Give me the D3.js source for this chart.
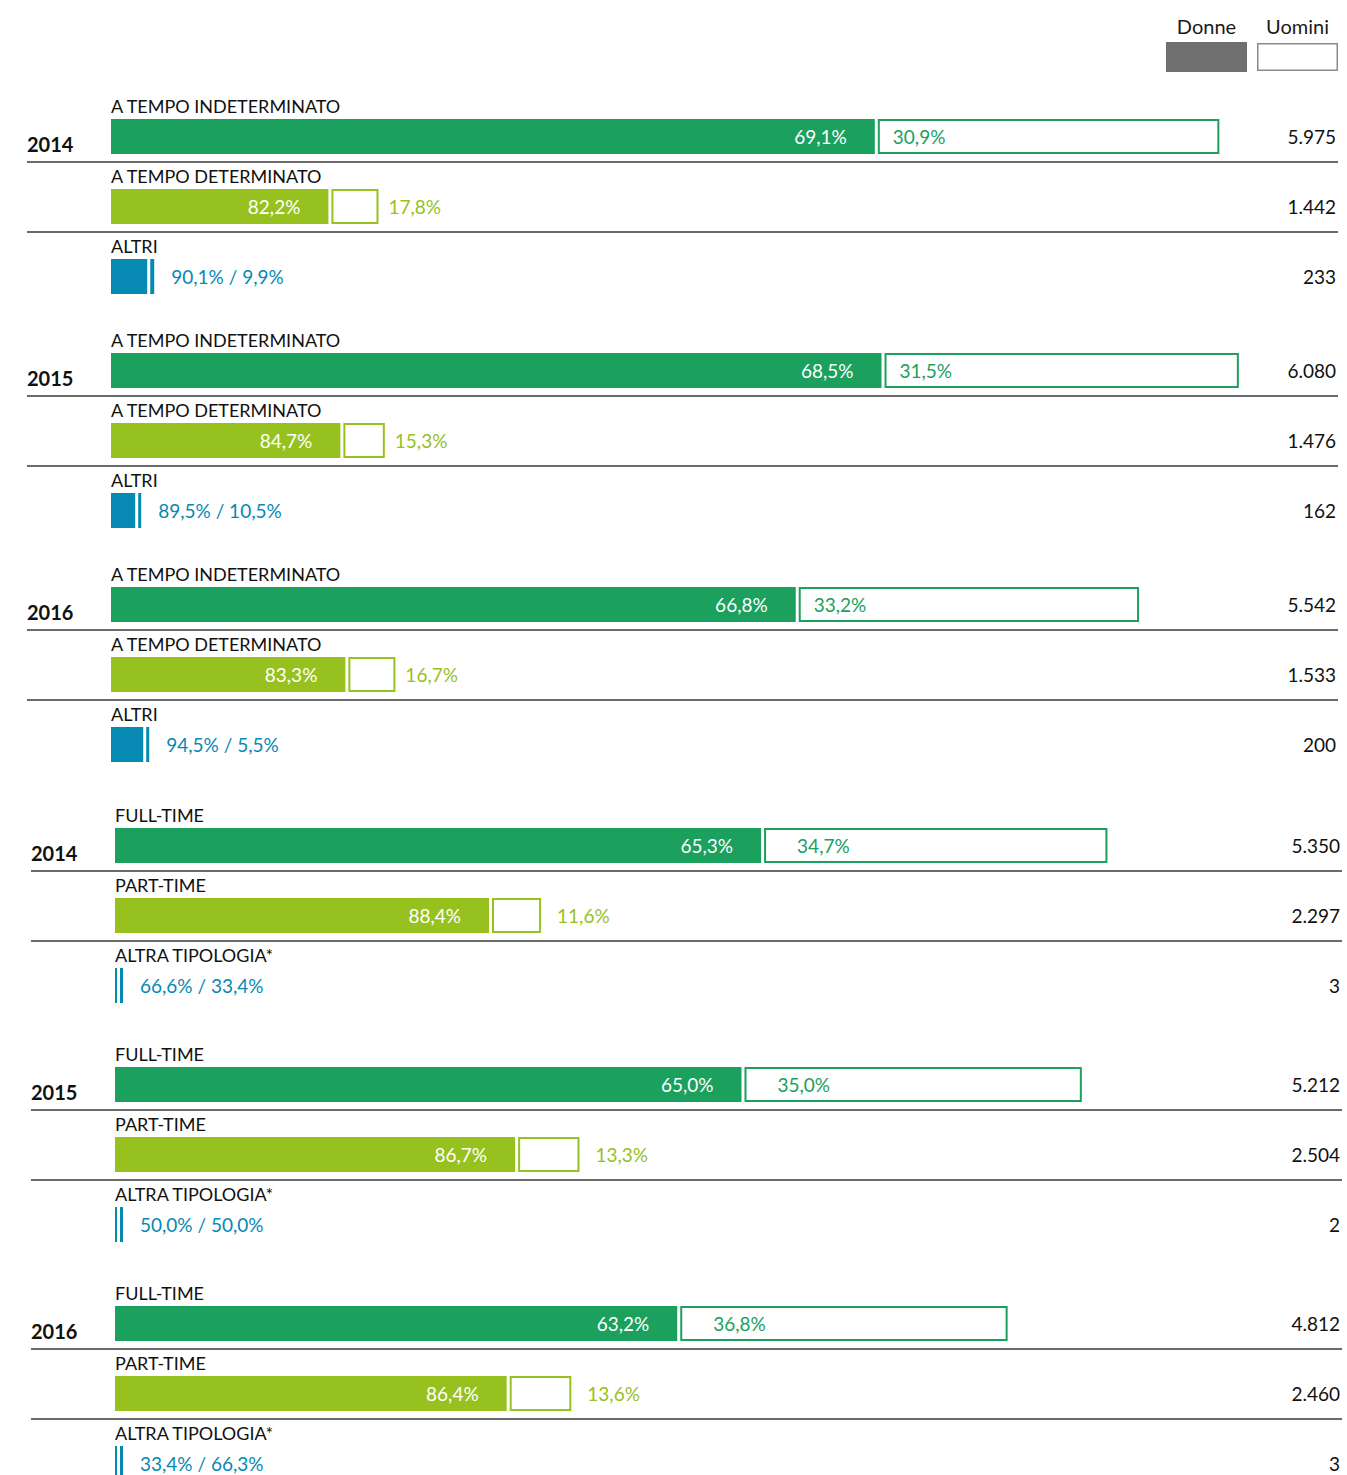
<!DOCTYPE html>
<html>
<head>
<meta charset="utf-8">
<script src="https://cdn.jsdelivr.net/npm/d3@7"></script>
<style>
  body { margin: 0; background: #fff; }
  svg { display: block; }
</style>
</head>
<body>
<svg id="chart" width="1347" height="1475"></svg>
<script>
// dati
const years = ["2014", "2015", "2016"];

const contractCats = ["A TEMPO INDETERMINATO", "A TEMPO DETERMINATO", "ALTRI"];
const contractTotals = [[5975, 1442, 233], [6080, 1476, 162], [5542, 1533, 200]];
const contractDonne = [[69.1, 82.2, 90.1], [68.5, 84.7, 89.5], [66.8, 83.3, 94.5]];
const contractUomini = [[30.9, 17.8, 9.9], [31.5, 15.3, 10.5], [33.2, 16.7, 5.5]];

const timeCats = ["FULL-TIME", "PART-TIME", "ALTRA TIPOLOGIA*"];
const timeTotals = [[5350, 2297, 3], [5212, 2504, 2], [4812, 2460, 3]];
const timeDonne = [[65.3, 88.4, 66.6], [65.0, 86.7, 50.0], [63.2, 86.4, 33.4]];
const timeUomini = [[34.7, 11.6, 33.4], [35.0, 13.3, 50.0], [36.8, 13.6, 66.3]];

const legendLabels = ["Donne", "Uomini"];

const rowColors = ["#1ba05e", "#97c11f", "#0689b3"];

const it = d3.formatLocale({ decimal: ",", thousands: ".", grouping: [3], currency: ["€", ""] });
const fmtPct = it.format(".1f");
const fmtInt = it.format(",d");

const svg = d3.select("#chart");
const FONT = "Lato, 'Open Sans', sans-serif";

// scala comune per la lunghezza delle barre
const x = d3.scaleLinear().domain([0, 6000]).range([0, 1113]);

// legenda
const legendX = d3.scaleBand().domain(legendLabels).range([1166, 1338]).paddingInner(0.11);
const lg = svg.append("g");
lg.selectAll("text").data(legendLabels).enter().append("text")
  .attr("x", d => legendX(d) + legendX.bandwidth() / 2)
  .attr("y", 34)
  .attr("text-anchor", "middle")
  .attr("font-family", FONT)
  .attr("font-size", 20)
  .attr("fill", "#1a1a1a")
  .text(d => d);
lg.append("rect")
  .attr("x", legendX("Donne")).attr("y", 42)
  .attr("width", legendX.bandwidth()).attr("height", 30)
  .attr("fill", "#6f6f6f");
lg.append("rect")
  .attr("x", legendX("Uomini") + 0.75).attr("y", 43.75)
  .attr("width", legendX.bandwidth() - 1.5).attr("height", 26.5)
  .attr("fill", "#fff").attr("stroke", "#8a8a8a").attr("stroke-width", 1.5);

function drawSection(opts) {
  const g = svg.append("g").attr("transform", `translate(${opts.dx},0)`);
  const barX = 111;
  const rowStep = 70;
  const barH = 35;

  years.forEach((year, yi) => {
    const top = opts.start + yi * opts.step;
    opts.cats.forEach((cat, ri) => {
      const ly = top + ri * rowStep;        // centro etichetta
      const by = ly + 13;                   // top barra
      const total = opts.totals[yi][ri];
      const pd = opts.donne[yi][ri];
      const pu = opts.uomini[yi][ri];
      const full = x(total);
      const gap = 3;
      let wD = Math.max((full - gap) * pd / 100, 2);
      let wU = Math.max((full - gap) * pu / 100, 3);
      const color = rowColors[ri];

      g.append("text")
        .attr("x", barX).attr("y", ly + 6.5)
        .attr("font-family", FONT).attr("font-size", 18)
        .attr("fill", "#111")
        .text(cat);

      g.append("rect")
        .attr("x", barX).attr("y", by)
        .attr("width", wD).attr("height", barH)
        .attr("fill", color);

      const ux = barX + wD + gap;
      g.append("rect")
        .attr("x", ux + 1).attr("y", by + 1)
        .attr("width", Math.max(wU - 2, 0.5)).attr("height", barH - 2)
        .attr("fill", "#fff").attr("stroke", color).attr("stroke-width", 2);

      const ty = by + barH / 2 + 7;
      if (ri < 2) {
        g.append("text")
          .attr("x", barX + wD - 28).attr("y", ty)
          .attr("text-anchor", "end")
          .attr("font-family", FONT).attr("font-size", 19)
          .attr("fill", "#fff")
          .text(fmtPct(pd) + "%");
        const inside = wU > 120;
        g.append("text")
          .attr("x", inside ? ux + opts.inPad : ux + wU + opts.outPad)
          .attr("y", ty)
          .attr("font-family", FONT).attr("font-size", 19)
          .attr("fill", color)
          .text(fmtPct(pu) + "%");
      } else {
        g.append("text")
          .attr("x", ux + wU + 17).attr("y", ty)
          .attr("font-family", FONT).attr("font-size", 19)
          .attr("fill", color)
          .text(fmtPct(pd) + "% / " + fmtPct(pu) + "%");
      }

      g.append("text")
        .attr("x", opts.totalX).attr("y", ty)
        .attr("text-anchor", "end")
        .attr("font-family", FONT).attr("font-size", 19)
        .attr("fill", "#111")
        .text(fmtInt(total));

      if (ri === 0) {
        g.append("text")
          .attr("x", 27).attr("y", by + barH - 2)
          .attr("font-family", FONT).attr("font-size", 20)
          .attr("font-weight", 700)
          .attr("fill", "#111")
          .text(year);
      }
      if (ri < 2) {
        g.append("line")
          .attr("x1", 27).attr("x2", 1338)
          .attr("y1", by + barH + 8).attr("y2", by + barH + 8)
          .attr("stroke", "#3a3a3a").attr("stroke-width", 1.5);
      }
    });
  });
}

drawSection({ cats: contractCats, totals: contractTotals, donne: contractDonne, uomini: contractUomini,
  start: 106, step: 234, dx: 0, totalX: 1336, inPad: 15, outPad: 10 });
drawSection({ cats: timeCats, totals: timeTotals, donne: timeDonne, uomini: timeUomini,
  start: 815, step: 239, dx: 4, totalX: 1336, inPad: 33, outPad: 16 });
</script>
</body>
</html>
